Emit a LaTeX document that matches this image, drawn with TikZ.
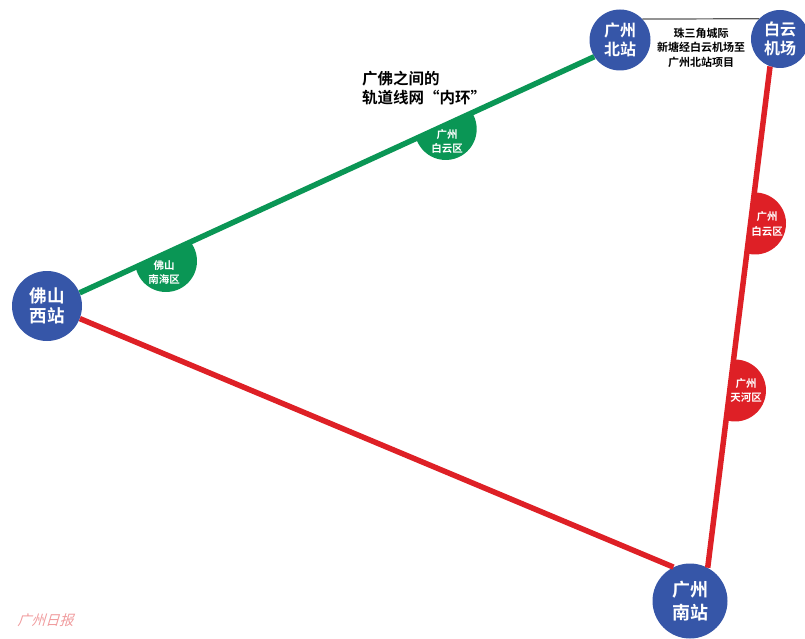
\documentclass[tikz,border=0pt]{standalone}
\usepackage{fontspec}
\setmainfont{Noto Sans CJK SC}[BoldFont={Noto Sans CJK SC Bold}]
\definecolor{stn}{RGB}{54,86,168}
\definecolor{grn}{RGB}{10,150,85}
\definecolor{rd}{RGB}{222,32,38}
\tikzset{
 station/.style={circle,fill=stn,text=white,font=\bfseries\fontsize{16}{19.5}\selectfont,align=center,inner sep=0pt},
 disctext/.style={text=white,font=\bfseries\fontsize{10.5}{14.5}\selectfont,align=center,inner sep=0pt},
 title/.style={text=black,font=\bfseries\fontsize{15.5}{19}\selectfont,align=left,inner sep=0pt},
 note/.style={text=black,font=\bfseries\fontsize{11}{14.5}\selectfont,align=center,inner sep=0pt},
 gline/.style={draw=grn,line width=5.5pt},
 rline/.style={draw=rd,line width=5.5pt},
}
\newcommand{\halfdisc}[5]{\fill[#1] (#2) ++(#3:#5) arc[start angle=#3,delta angle=#4,radius=#5] -- cycle;}
\begin{document}
\begin{tikzpicture}[x=1pt,y=-1pt]
\useasboundingbox (0,0) rectangle (805,639);
\coordinate (g1) at (445.7,129);
\coordinate (g2) at (166,261);
\coordinate (r1) at (755,223.5);
\coordinate (r2) at (735,390.5);
\halfdisc{grn}{g1}{-31.6}{194}{31}
\halfdisc{grn}{g2}{-37.8}{206.4}{31}
\halfdisc{rd}{r1}{-91.4}{197}{31}
\halfdisc{rd}{r2}{-92.6}{199.4}{31}
\node[station,minimum size=70pt,font=\bfseries\fontsize{17.5}{20}\selectfont] (nfs) at (47,306) {佛山\\西站};
\node[station,minimum size=61pt] (nbz) at (620,40) {广州\\北站};
\node[station,minimum size=58pt] (nby) at (780,39) {白云\\机场};
\node[station,minimum size=75pt,font=\bfseries\fontsize{18}{23}\selectfont] (nnz) at (690,601) {广州\\南站};
\draw[gline] (nfs.22) -- (nbz.213);
\draw[rline] (nfs.-21) -- (nnz.116);
\draw[rline] (nnz.62) -- (nby.250);
\draw[line width=1.2pt,draw=black!65] (nbz.43.5) -- (nby.136.4);
\node[disctext] (t1) at (447,141.5) {广州\\白云区};
\node[disctext] (t2) at (164,272.5) {佛山\\南海区};
\node[disctext] (t3) at (767,224) {广州\\白云区};
\node[disctext] (t4) at (746,390.5) {广州\\天河区};
\node[title,anchor=west] (ttl) at (362,88.5) {广佛之间的\\轨道线网“内环”};
\node[note] (nt) at (701,47.5) {珠三角城际\\新塘经白云机场至\\广州北站项目};
\node[text=rd!45,xslant=0.3,font=\fontsize{14}{16}\selectfont,inner sep=0pt] (wm) at (47,620) {广州日报};
\end{tikzpicture}
\end{document}
